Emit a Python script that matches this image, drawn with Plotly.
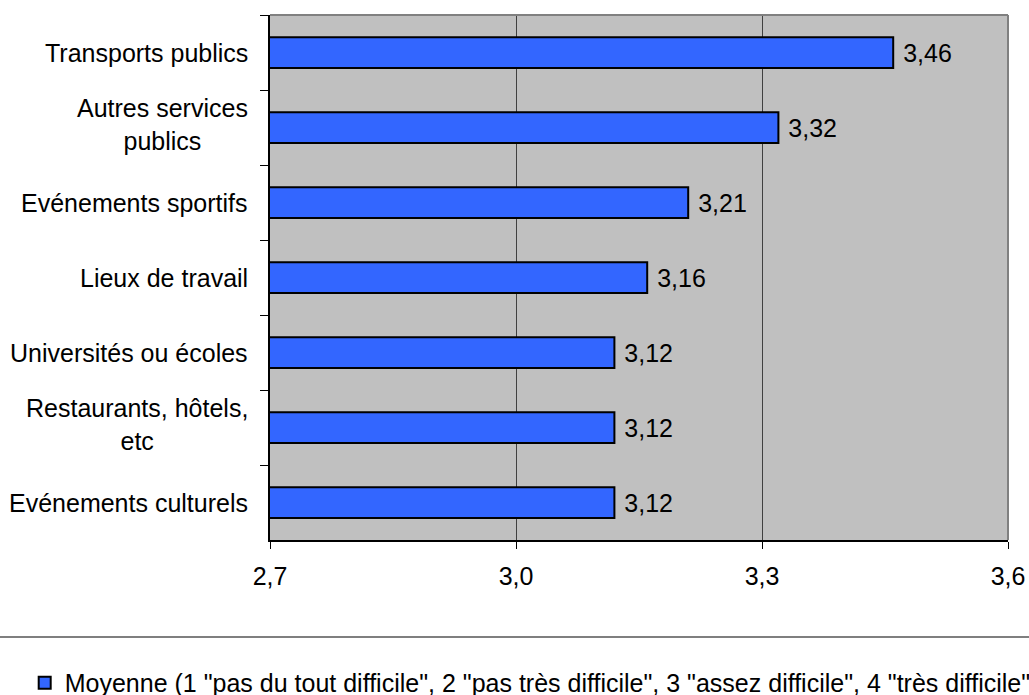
import plotly.graph_objects as go

# Survey categories, listed top to bottom
categories = [
    "Transports publics",
    "Autres services<br>publics",
    "Evénements sportifs",
    "Lieux de travail",
    "Universités ou écoles",
    "Restaurants, hôtels,<br>etc",
    "Evénements culturels",
]
moyenne = [3.46, 3.32, 3.21, 3.16, 3.12, 3.12, 3.12]
series_name = ('Moyenne (1 "pas du tout difficile", 2 "pas très difficile", '
               '3 "assez difficile", 4 "très difficile")')
x_ticks = [2.7, 3.0, 3.3, 3.6]

FONT = "Liberation Sans, Arial, sans-serif"
FS = 25

fig = go.Figure()
fig.add_trace(go.Bar(
    x=moyenne,
    y=categories,
    orientation="h",
    name=series_name,
    width=0.41,
    marker=dict(color="#3366FF", line=dict(color="black", width=2)),
    texttemplate="\u00a0%{x:.2f}",
    textposition="outside",
    textfont=dict(family=FONT, size=FS, color="black"),
    cliponaxis=False,
    showlegend=True,
))

# Category labels, centred line by line
for cat in categories:
    two_lines = "<br>" in cat
    fig.add_annotation(
        x=0, xref="paper", y=cat, yref="y",
        text=cat, showarrow=False,
        xanchor="right", yanchor="middle", align="center",
        xshift=-20, yshift=3 if two_lines else 0,
        font=dict(family=FONT, size=FS, color="black"),
    )

# Top and right frame of the plot area
fig.add_shape(type="line", xref="paper", yref="paper", x0=0, x1=1, y0=1, y1=1,
              line=dict(color="#808080", width=2))
fig.add_shape(type="line", xref="paper", yref="paper", x0=1, x1=1, y0=0, y1=1,
              line=dict(color="#808080", width=2))
# Separator above the legend
fig.add_shape(type="line", xref="paper", yref="paper", x0=-0.5, x1=1.5,
              y0=-0.1848, y1=-0.1848, line=dict(color="black", width=1.2))

fig.update_layout(
    width=1029, height=695,
    margin=dict(l=270, r=21, t=15, b=155, autoexpand=False),
    paper_bgcolor="white",
    plot_bgcolor="#C0C0C0",
    separators=", ",
    font=dict(family=FONT, size=FS, color="black"),
    bargap=0.59,
    xaxis=dict(
        range=[2.7, 3.6],
        tickvals=x_ticks,
        tickformat=".1f",
        ticks="outside", ticklen=7, tickwidth=1, tickcolor="black",
        ticklabelstandoff=6,
        showgrid=True, gridcolor="#404040", gridwidth=1,
        showline=True, linecolor="black", linewidth=2,
        zeroline=False,
        tickfont=dict(family=FONT, size=FS, color="black"),
        fixedrange=True,
    ),
    yaxis=dict(
        autorange="reversed",
        showticklabels=False,
        ticks="outside", tickson="boundaries", ticklen=8, tickwidth=1,
        tickcolor="black",
        showgrid=False,
        showline=True, linecolor="black", linewidth=2,
        fixedrange=True,
    ),
    legend=dict(
        orientation="h",
        xref="container", yref="container",
        x=0.024, xanchor="left",
        y=0.0173, yanchor="middle",
        font=dict(family=FONT, size=FS, color="black"),
        bgcolor="rgba(0,0,0,0)",
    ),
)

fig.write_html("out.html")
